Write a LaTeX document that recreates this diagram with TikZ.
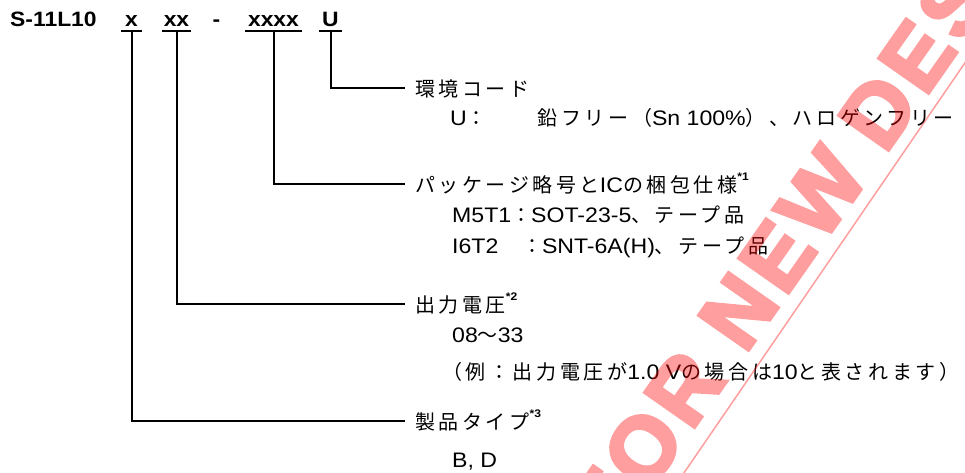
\documentclass[tikz,border=0pt]{standalone}
\usepackage{fontspec}
\setmainfont{Liberation Sans}[FakeStretch=1.1]
\newfontfamily\jp{Noto Sans CJK JP}[Scale=0.952,LetterSpace=18]
\newfontfamily\stampfont{Liberation Sans}[LetterSpace=7,FakeBold=4]
\usetikzlibrary{calc}
\newcommand\txtsize{\fontsize{21}{25}\selectfont}
\newcommand\ja[1]{{\jp #1}}
\newcommand\fn[1]{\raisebox{12pt}{\fontsize{11}{11}\selectfont\bfseries *#1}}

\begin{document}
\begin{tikzpicture}[x=1pt,y=-1pt,font=\txtsize,
    code/.style={font=\fontsize{20.8}{25}\selectfont\bfseries, inner xsep=0pt, inner ysep=5pt, text depth=0pt, anchor=base},
    head/.style={inner xsep=10pt, inner ysep=0pt, text height=17pt, text depth=1pt, anchor=base west},
    item/.style={inner sep=0pt, anchor=base west},
    lead/.style={line width=2pt},
    stamp/.style={rotate=55, inner sep=0pt, text=red,
      font=\fontsize{88}{88}\selectfont\stampfont\bfseries}]
  \useasboundingbox (0,0) rectangle (965,472);

  % part number S-11L10 x xx - xxxx U
  \node[code, anchor=base west] (pn) at (10,26) {S-11L10};
  \node[code, minimum width=21pt] (cx) at (131.5,26) {x};
  \node[code, minimum width=29pt] (cxx) at (176.5,26) {xx};
  \node[code] (dash) at (216.5,26) {-};
  \node[code, minimum width=57pt] (cpkg) at (273.5,26) {xxxx};
  \node[code, minimum width=23pt] (cu) at (330.5,26) {U};
  \foreach \c in {cx,cxx,cpkg,cu}
    \draw[lead] (\c.south west) -- (\c.south east);

  % environmental code
  \node[head] (env) at (405,96) {\ja{環境コード}};
  \node[item] (envu) at (450,125) {U\ja{：　　鉛フリー（}Sn 100\%\ja{）、ハロゲンフリー}};

  % package
  \node[head] (pkg) at (405,192) {\ja{パッケージ略号と}IC\ja{の梱包仕様}\fn{1}};
  \node[item] (pkg1) at (452,222) {M5T1\ja{：}SOT-23-5\ja{、テープ品}};
  \node[item] (pkg2) at (452,253) {I6T2\ja{　：}SNT-6A(H)\ja{、テープ品}};

  % output voltage
  \node[head] (vout) at (405,312) {\ja{出力電圧}\fn{2}};
  \node[item] (vout1) at (452,342) {08\ja{〜}33};
  \node[item] (vout2) at (442,379) {\ja{（例：出力電圧が}1.0 V\ja{の場合は}10\ja{と表されます）}};

  % product type
  \node[head] (type) at (405,429) {\ja{製品タイプ}\fn{3}};
  \node[item] (type1) at (452,467) {B, D};

  \draw[lead] (cu.south) |- (env.west);
  \draw[lead] (cpkg.south) |- (pkg.west);
  \draw[lead] (cxx.south) |- (vout.west);
  \draw[lead] (cx.south) |- (type.west);

  % stamp
  \begin{scope}[transparency group, opacity=.38]
    \clip (0,0) rectangle (965,472);
    \node[stamp, anchor=base west] (stamp2) at (885,155) {DESIGN};
    \node[stamp, anchor=base east] (stamp1) at ($(stamp2.base west)!-26pt!(stamp2.base east)$)
      {NOT RECOMMENDED FOR NEW};
    \draw[red, line width=1.5pt] (638,540) -- (1008,0);
  \end{scope}
\end{tikzpicture}
\end{document}
